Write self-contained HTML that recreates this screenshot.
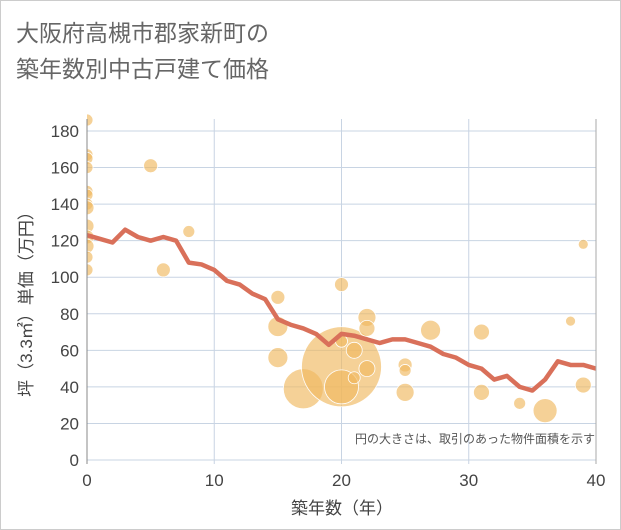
<!DOCTYPE html>
<html><head><meta charset="utf-8"><style>
body{margin:0;background:#fff;}
svg{display:block;font-family:"Liberation Sans","Noto Sans CJK JP",sans-serif;}
</style></head><body>
<svg id="c" width="621" height="530">
<defs><clipPath id="plotclip"><rect x="87" y="100" width="509" height="362"/></clipPath></defs>
<rect x="0.5" y="0.5" width="620" height="529" fill="#fff" stroke="#ccc"/>
<text x="16" y="41" font-size="23" fill="#666">大阪府高槻市郡家新町の</text>
<text x="16" y="77" font-size="23" fill="#666">築年数別中古戸建て価格</text>
<g id="grid"></g>
<g id="bubbles" clip-path="url(#plotclip)"></g>
<g id="line"></g>
<g id="axes"></g>
<text x="595" y="443" font-size="12" fill="#555" text-anchor="end">円の大きさは、取引のあった物件面積を示す</text>
<text x="342" y="514" font-size="17" fill="#444" text-anchor="middle">築年数（年）</text>
<text transform="translate(32,300) rotate(-90)" font-size="17" fill="#444" text-anchor="middle">坪（3.3㎡）単価（万円）</text>
</svg>
<script>
const xTicks=[0,10,20,30,40];
const yTicks=[0,20,40,60,80,100,120,140,160,180];
const lineYears=[0,1,2,3,4,5,6,7,8,9,10,11,12,13,14,15,16,17,18,19,20,21,22,23,24,25,26,27,28,29,30,31,32,33,34,35,36,37,38,39,40];
const linePrices=[123,121,119,126,122,120,122,120,108,107,104,98,96,91,88,77,74,72,69,63,69,68,66,64,66,66,64,62,58,56,52,50,44,46,40,38,44,54,52,52,50];
const bubbleYears=[0,0,0,0,0,0,0,0,0,0,0,0,0,5,8,6,15,15,15,17,20,20,20,20,21,21,22,22,22,25,25,25,27,31,31,34,36,38,39,39];
const bubblePrices=[186,167,165,160,147,145,140,138,128,122,117,111,104,161,125,104,89,73,56,39,51,40,96,65,60,45,78,72,50,52,49,37,71,70,37,31,27,76,118,41];
const bubbleSizes=[6,6,6,6,6,6,6,7,7,7,7,6,6,7,6,7,7,10,10,20,40,17,7,6,8,6,9,8,8,7,6,9,10,8,8,6,12,5,5,8];
const NS="http://www.w3.org/2000/svg";
const X0=87,X1=596,Y0=460,Y1=131;
const sx=v=>X0+(X1-X0)*v/40;
const sy=v=>Y0-(Y0-Y1)*v/180;
function mk(t,a,p){const e=document.createElementNS(NS,t);for(const k in a)e.setAttribute(k,a[k]);p.appendChild(e);return e;}
const grid=document.getElementById('grid'),axes=document.getElementById('axes');
yTicks.forEach(v=>{
 const l=mk('line',{x1:X0,x2:X1,y1:sy(v),y2:sy(v),stroke:'#c8d4e3','stroke-width':1},grid);
 
 
 const t=mk('text',{x:X0-8,y:sy(v)+6,'font-size':17,fill:'#444','text-anchor':'end'},axes);
 t.textContent=v;
 
 
});
xTicks.forEach(v=>{
 const l=mk('line',{x1:sx(v),x2:sx(v),y1:Y1-12,y2:Y0+4,stroke:'#c8d4e3','stroke-width':1},grid);
 
 
 const t=mk('text',{x:sx(v),y:486,'font-size':17,fill:'#444','text-anchor':'middle'},axes);
 t.textContent=v;
 
 
});
const ax=mk('line',{x1:X0,x2:X0,y1:Y1-12,y2:Y0+4,stroke:'#888','stroke-width':1},axes);


const ax2=mk('line',{x1:X1,x2:X1,y1:Y1-12,y2:Y0+4,stroke:'#aaa','stroke-width':1},axes);


const bg=document.getElementById('bubbles');
bubbleYears.forEach((y,i)=>{
 const c=mk('circle',{cx:sx(y),cy:sy(bubblePrices[i]),r:bubbleSizes[i],fill:'#f0b860','fill-opacity':0.65,stroke:'#fff','stroke-width':0.8},bg);
 
 
});
const pts=lineYears.map((y,i)=>sx(y)+','+sy(linePrices[i])).join(' ');
const pl=mk('polyline',{points:pts,fill:'none',stroke:'#d9705a','stroke-width':4.5,'stroke-linejoin':'round'},document.getElementById('line'));


</script>
</body></html>
